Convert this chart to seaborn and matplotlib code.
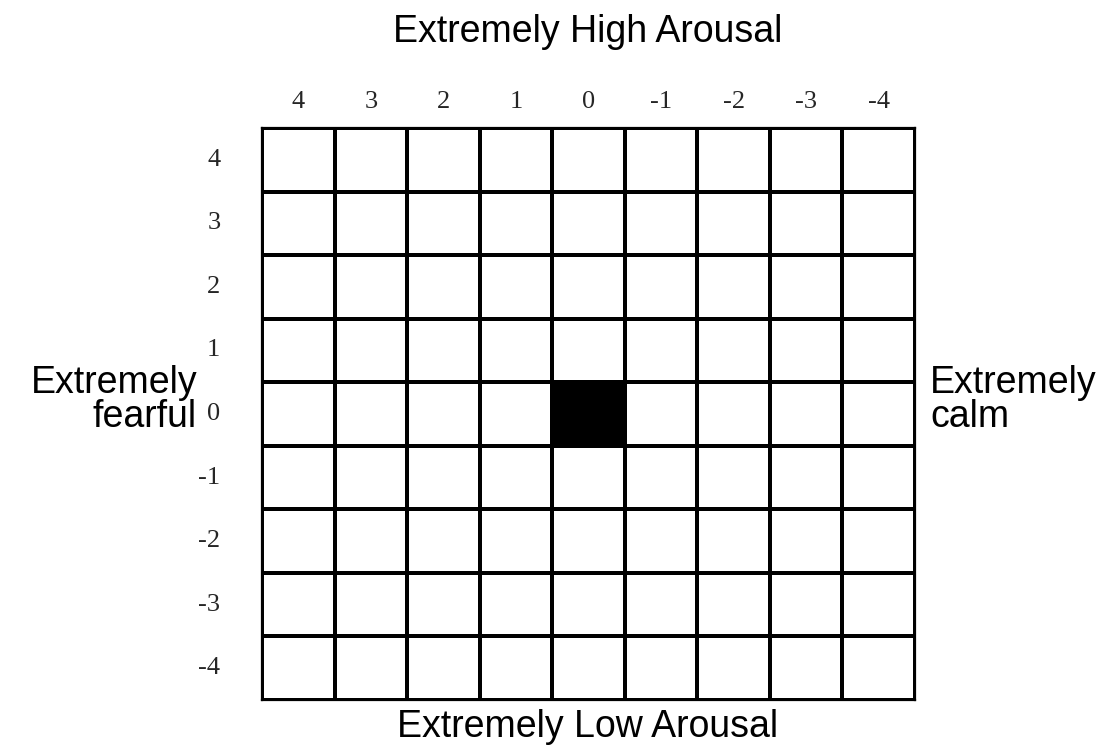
import numpy as np
import pandas as pd
import matplotlib
matplotlib.use("Agg")
import matplotlib.pyplot as plt
import seaborn as sns
from matplotlib.colors import ListedColormap

# grid levels (columns: arousal-axis labels on top, rows: labels on left)
col_levels = [4, 3, 2, 1, 0, -1, -2, -3, -4]
row_levels = [4, 3, 2, 1, 0, -1, -2, -3, -4]
# the one marked cell
marked_col = 0
marked_row = 0

grid = pd.DataFrame(0, index=row_levels, columns=col_levels)
grid.loc[marked_row, marked_col] = 1

sns.set_style("white")

fig = plt.figure(figsize=(11.19, 7.51), dpi=100)
ax = fig.add_axes([262 / 1119, 1 - 700 / 751, 653 / 1119, 572 / 751])

sns.heatmap(
    grid,
    ax=ax,
    cmap=ListedColormap(["white", "black"]),
    cbar=False,
    linewidths=1.6,
    linecolor="black",
    square=False,
    vmin=0,
    vmax=1,
)

for s in ax.spines.values():
    s.set_visible(True)
    s.set_color("black")
    s.set_linewidth(1.6)

ax.xaxis.tick_top()
ax.tick_params(axis="both", length=0)
ax.tick_params(axis="x", pad=11)
ax.tick_params(axis="y", pad=30)
ax.set_xticklabels([str(v) for v in col_levels], family="Liberation Serif", fontsize=19)
ax.set_yticklabels([str(v) for v in row_levels], family="Liberation Serif", fontsize=19, rotation=0)
ax.set_xlabel("")
ax.set_ylabel("")

lab = dict(family="Liberation Sans", fontsize=27, color="black")
fig.text(588 / 1119, 1 - 32 / 751, "Extremely High Arousal", ha="center", va="center", **lab)
fig.text(588 / 1119, 1 - 727 / 751, "Extremely Low Arousal", ha="center", va="center", **lab)
fig.text(197 / 1119, 1 - 400 / 751, "Extremely\nfearful", ha="right", va="center",
         multialignment="right", linespacing=0.9, **lab)
fig.text(930 / 1119, 1 - 400 / 751, "Extremely\ncalm", ha="left", va="center",
         multialignment="left", linespacing=0.9, **lab)

fig.savefig("out.png", dpi=100, facecolor="white")
